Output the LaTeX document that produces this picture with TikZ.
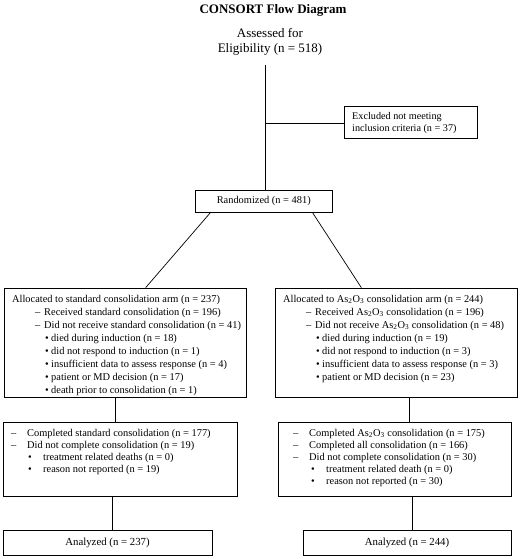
\documentclass[tikz,border=0pt]{standalone}
\usepackage{fontspec}
\setmainfont{Liberation Serif}
\usetikzlibrary{calc}
\tikzset{
  box/.style={draw, line width=0.7pt, inner sep=0pt},
  conn/.style={line width=0.7pt},
  boxtext/.style={inner sep=0pt, anchor=base west, font=\fontsize{10.4}{13}\selectfont},
}
\newcommand{\dl}{\hspace*{23pt}\makebox[9pt][l]{–}}
\newcommand{\bl}{\hspace*{33pt}\makebox[6pt][l]{•}}
\newcommand{\dlb}{\makebox[16pt][l]{–}}
\newcommand{\blb}[1]{\hspace*{#1}\makebox[15pt][l]{•}}
\newcommand{\aso}{As\textsubscript{2}O\textsubscript{3}}
\begin{document}
\begin{tikzpicture}[x=1pt,y=-1pt]
\useasboundingbox (0,0) rectangle (520,559);
\fill[white] (0,0) rectangle (520,559);

\node[font=\fontsize{13}{15}\selectfont\bfseries] (title) at (273,10) {CONSORT Flow Diagram};
\node[font=\fontsize{13}{15}\selectfont, align=center, inner sep=0pt] (assess) at (270,42) {Assessed for\\Eligibility (n = 518)};
\coordinate (top) at (265,65);
\coordinate (branch) at (265,123);

\node[box, minimum width=133pt, minimum height=32pt] (excl) at (410.5,122) {};
\node[boxtext, font=\fontsize{10.2}{12}\selectfont] (excltext) at (352,119.5) {\parbox[t]{120pt}{Excluded not meeting\\inclusion criteria (n = 37)}};

\node[box, minimum width=136.5pt, minimum height=22pt, font=\fontsize{10.4}{13}\selectfont] (rand) at (263.75,201) {Randomized (n = 481)};

\node[box, minimum width=242pt, minimum height=109pt] (lb1) at (125,342.5) {};
\node[box, minimum width=242pt, minimum height=109pt] (rb1) at (396,342.5) {};
\node[box, minimum width=234pt, minimum height=74.5pt] (lb2) at (120,459.25) {};
\node[box, minimum width=233.5pt, minimum height=74.5pt] (rb2) at (394.75,459.25) {};
\node[box, minimum width=209pt, minimum height=25pt, font=\fontsize{10.8}{13}\selectfont] (la) at (107.5,542.5) {Analyzed (n = 237)};
\node[box, minimum width=208pt, minimum height=25pt, font=\fontsize{10.8}{13}\selectfont] (ra) at (407,542.5) {Analyzed (n = 244)};

\node[boxtext] (lb1text) at (12,302) {\parbox[t]{232pt}{%
Allocated to standard consolidation arm (n = 237)\\
\dl Received standard consolidation (n = 196)\\
\dl Did not receive standard consolidation (n = 41)\\
\bl died during induction (n = 18)\\
\bl did not respond to induction (n = 1)\\
\bl insufficient data to assess response (n = 4)\\
\bl patient or MD decision (n = 17)\\
\bl death prior to consolidation (n = 1)}};

\node[boxtext] (rb1text) at (283,302) {\parbox[t]{232pt}{%
Allocated to \aso{} consolidation arm (n = 244)\\
\dl Received \aso{} consolidation (n = 196)\\
\dl Did not receive \aso{} consolidation (n = 48)\\
\bl died during induction (n = 19)\\
\bl did not respond to induction (n = 3)\\
\bl insufficient data to assess response (n = 3)\\
\bl patient or MD decision (n = 23)}};

\node[boxtext, font=\fontsize{10.4}{12.3}\selectfont] (lb2text) at (11,436) {\parbox[t]{224pt}{%
\dlb Completed standard consolidation (n = 177)\\
\dlb Did not complete consolidation (n = 19)\\
\blb{17pt}treatment related deaths (n = 0)\\
\blb{17pt}reason not reported (n = 19)}};

\node[boxtext, font=\fontsize{10.4}{12.2}\selectfont] (rb2text) at (293,436) {\parbox[t]{216pt}{%
\dlb Completed \aso{} consolidation (n = 175)\\
\dlb Completed all consolidation (n = 166)\\
\dlb Did not complete consolidation (n = 30)\\
\blb{18pt}treatment related death (n = 0)\\
\blb{18pt}reason not reported (n = 30)}};

\draw[conn] (top) -- (rand.north -| top);
\draw[conn] (branch) -- (excl.west |- branch);
\draw[conn] ($(rand.south west)+(15.5,0)$) -- ($(lb1.north west)+(142,0)$);
\draw[conn] ($(rand.south east)+(-20,0)$) -- ($(rb1.north west)+(86.7,0)$);
\draw[conn] (lb1.south -| 115,0) -- (lb2.north -| 115,0);
\draw[conn] (lb2.south -| 112,0) -- (la.north -| 112,0);
\draw[conn] (rb1.south -| 409,0) -- (rb2.north -| 409,0);
\draw[conn] (rb2.south -| 412,0) -- (ra.north -| 412,0);
\end{tikzpicture}
\end{document}
